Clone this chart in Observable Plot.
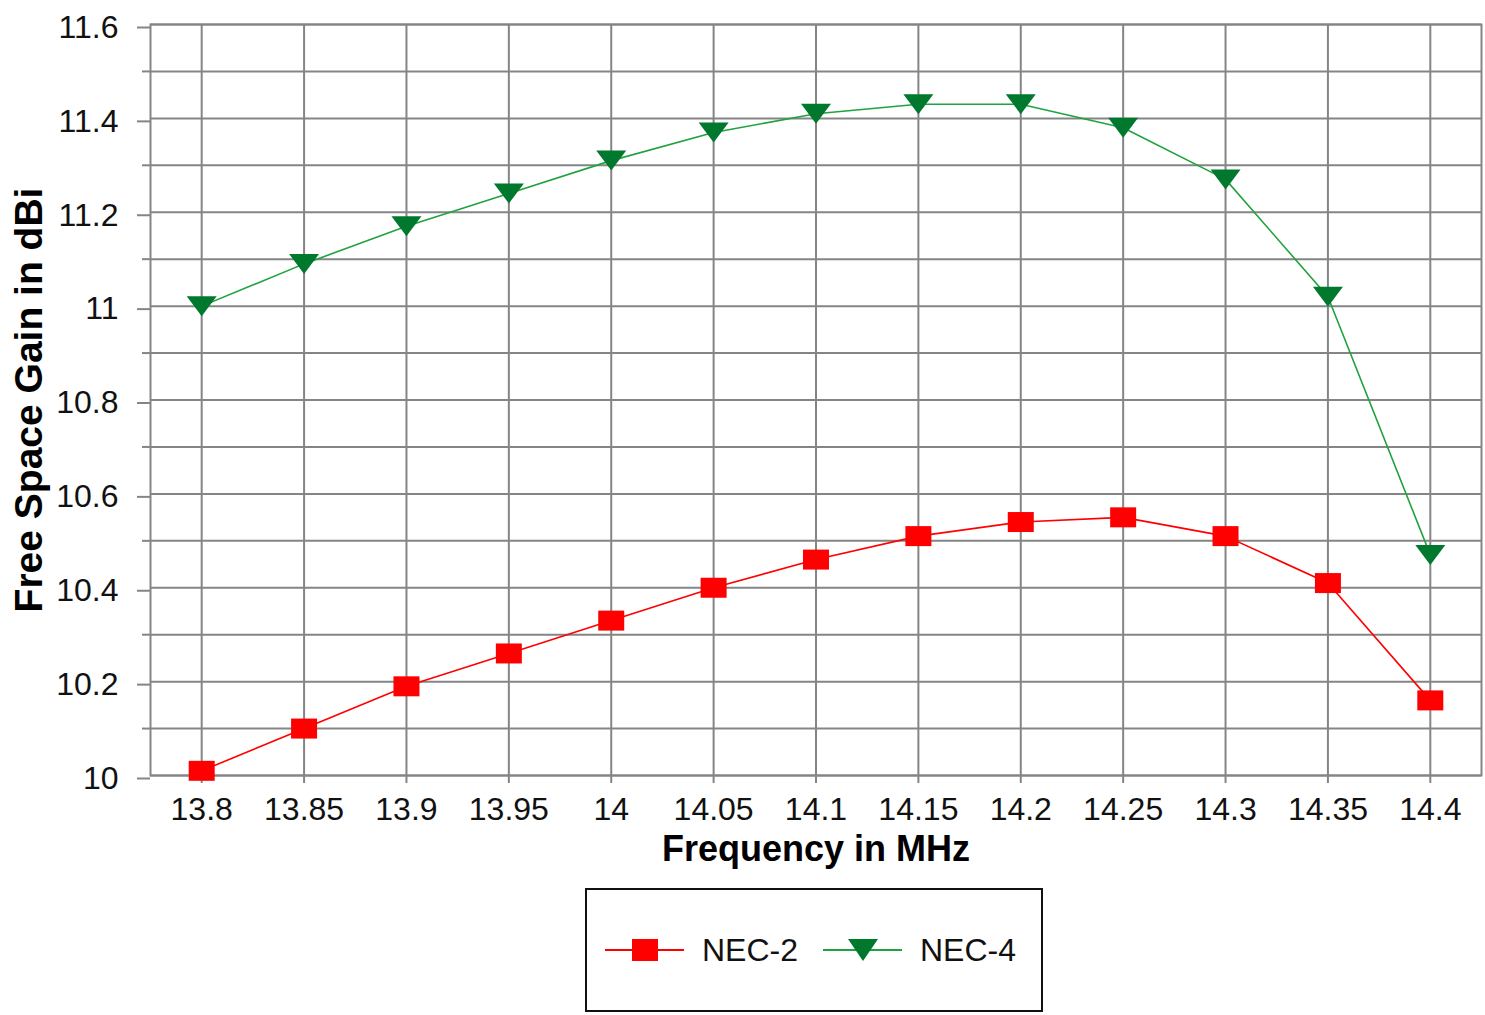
<!DOCTYPE html>
<html>
<head>
<meta charset="utf-8">
<script src="https://cdn.jsdelivr.net/npm/d3@7"></script>
<script src="https://cdn.jsdelivr.net/npm/@observablehq/plot@0.6"></script>
<style>
  html, body { margin: 0; padding: 0; background: #fff; }
  body { width: 1485px; height: 1015px; overflow: hidden; font-family: "Liberation Sans", Arial, sans-serif; }
  #legend {
    position: absolute; left: 585px; top: 888px; width: 454px; height: 120px;
    border: 2px solid #111; box-sizing: content-box; background: #fff;
  }
</style>
</head>
<body>
<div id="chart"></div>
<div id="legend"></div>
<script>
const frequencies = ["13.8","13.85","13.9","13.95","14","14.05","14.1","14.15","14.2","14.25","14.3","14.35","14.4"];
const nec2 = [10.01, 10.10, 10.19, 10.26, 10.33, 10.40, 10.46, 10.51, 10.54, 10.55, 10.51, 10.41, 10.16];
const nec4 = [11.00, 11.09, 11.17, 11.24, 11.31, 11.37, 11.41, 11.43, 11.43, 11.38, 11.27, 11.02, 10.47];
const seriesNames = ["NEC-2", "NEC-4"];
const yMajorTicks = [10, 10.2, 10.4, 10.6, 10.8, 11, 11.2, 11.4, 11.6];
const yMinorTicks = [10.1, 10.3, 10.5, 10.7, 10.9, 11.1, 11.3, 11.5];
const xTitle = "Frequency in MHz";
const yTitle = "Free Space Gain in dBi";

const red = "#ff0000";
const greenLine = "#1fa33e";
const greenFill = "#00782e";
const grid = "#858585";

const rows2 = frequencies.map((f, i) => ({f, v: nec2[i], s: seriesNames[0]}));
const rows4 = frequencies.map((f, i) => ({f, v: nec4[i], s: seriesNames[1]}));

const rectSymbol = {draw(ctx) { ctx.rect(-13, -10, 26, 20); }};
const triSymbol = {draw(ctx) { ctx.moveTo(-15, -10); ctx.lineTo(15, -10); ctx.lineTo(0, 10); ctx.closePath(); }};

const chart = Plot.plot({
  width: 1485,
  height: 880,
  marginLeft: 150,
  marginRight: 4,
  marginTop: 24,
  marginBottom: 105,
  style: {fontFamily: "'Liberation Sans', Arial, sans-serif", background: "#fff"},
  x: {type: "point", domain: frequencies, padding: 0.5, round: false},
  y: {domain: [10, 11.6]},
  marks: [
    Plot.gridY([...yMajorTicks, ...yMinorTicks], {stroke: grid, strokeOpacity: 1, strokeWidth: 2}),
    Plot.gridX(frequencies, {stroke: grid, strokeOpacity: 1, strokeWidth: 2}),
    Plot.frame({stroke: grid, strokeWidth: 2}),
    Plot.axisY(yMinorTicks, {tickSize: 8, tickFormat: () => "", stroke: grid, strokeWidth: 2, label: null}),
    Plot.axisY(yMajorTicks, {tickSize: 13, tickPadding: 19, stroke: grid, strokeWidth: 2, fill: "#111", fontSize: 32, dy: 3,
      tickFormat: d => String(+d.toFixed(1)), label: null}),
    Plot.axisX(frequencies, {tickSize: 8, tickPadding: 14, stroke: grid, strokeWidth: 2, fill: "#111", fontSize: 32, label: null}),
    Plot.text([xTitle], {frameAnchor: "bottom", lineAnchor: "bottom", dy: 85, fontSize: 36, fontWeight: "bold", fill: "#000"}),
    Plot.text([yTitle], {frameAnchor: "left", textAnchor: "middle", lineAnchor: "middle", dx: -121, rotate: -90, fontSize: 39, fontWeight: "bold", fill: "#000"}),
    Plot.line(rows2, {x: "f", y: "v", stroke: red, strokeWidth: 1.6}),
    Plot.line(rows4, {x: "f", y: "v", stroke: greenLine, strokeWidth: 1.6}),
    Plot.dot(rows2, {x: "f", y: "v", symbol: () => rectSymbol, fill: red, stroke: "none"}),
    Plot.dot(rows4, {x: "f", y: "v", symbol: () => triSymbol, fill: greenFill, stroke: "none"})
  ]
});
document.getElementById("chart").appendChild(chart);

// Legend
const lg = d3.select("#legend").append("svg").attr("width", 454).attr("height", 120)
  .style("font-family", "'Liberation Sans', Arial, sans-serif");
const items = [
  {name: seriesNames[0], x0: 18, color: red, sym: "rect"},
  {name: seriesNames[1], x0: 236, color: greenLine, sym: "tri"}
];
for (const it of items) {
  const cy = 60;
  lg.append("line").attr("x1", it.x0).attr("x2", it.x0 + 79).attr("y1", cy).attr("y2", cy)
    .attr("stroke", it.color).attr("stroke-width", 2);
  const cx = it.x0 + 40;
  if (it.sym === "rect") {
    lg.append("rect").attr("x", cx - 13).attr("y", cy - 11).attr("width", 26).attr("height", 22).attr("fill", red);
  } else {
    lg.append("path").attr("d", `M${cx - 15},${cy - 11}L${cx + 15},${cy - 11}L${cx},${cy + 11}Z`).attr("fill", greenFill);
  }
  lg.append("text").attr("x", it.x0 + 97).attr("y", cy + 11).attr("font-size", 32).attr("fill", "#111").text(it.name);
}
</script>
</body>
</html>
